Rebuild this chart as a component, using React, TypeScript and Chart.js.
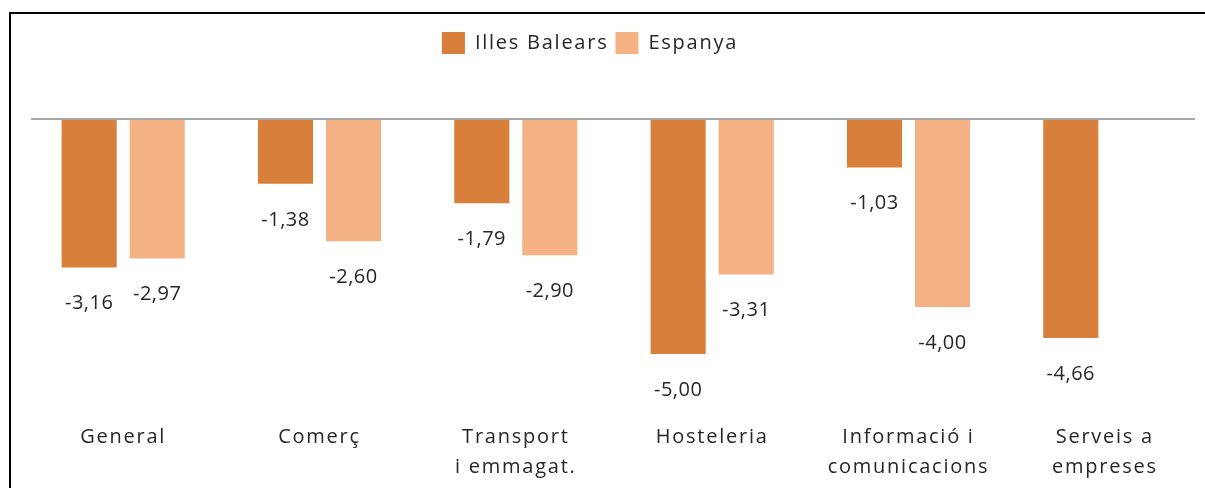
import React, { useEffect, useRef } from "react";
import { Chart, registerables } from "chart.js";

Chart.register(...registerables);

const categories: (string | string[])[] = [
  "General",
  "Comerç",
  ["Transport", "i emmagat."],
  "Hosteleria",
  ["Informació i", "comunicacions"],
  ["Serveis a", "empreses"],
];
const illesBalears: (number | null)[] = [-3.16, -1.38, -1.79, -5.0, -1.03, -4.66];
const espanya: (number | null)[] = [-2.97, -2.6, -2.9, -3.31, -4.0, null];
const seriesNames = ["Illes Balears", "Espanya"];
const seriesColors = ["#D77F3B", "#F4B183"];

const FONT = "'Open Sans', 'DejaVu Sans', sans-serif";
const TEXT = "#262626";

const spacingPlugin = {
  id: "spacing",
  beforeLayout(chart: any) {
    chart.ctx.letterSpacing = "1.75px";
  },
  afterLayout(chart: any) {
    if (chart.legend) {
      chart.legend.left -= 24;
      chart.legend.right -= 24;
    }
  },
  beforeDraw(chart: any) {
    chart.ctx.letterSpacing = "1.75px";
  },
};

const zeroLinePlugin = {
  id: "zeroLine",
  afterDatasetsDraw(chart: any) {
    const { ctx, chartArea, scales } = chart;
    const y = scales.y.getPixelForValue(0);
    ctx.save();
    ctx.strokeStyle = "#A6A6A6";
    ctx.lineWidth = 2;
    ctx.beginPath();
    ctx.moveTo(chartArea.left + 6, y);
    ctx.lineTo(chartArea.right - 8, y);
    ctx.stroke();
    ctx.restore();
  },
};

const valueLabelPlugin = {
  id: "valueLabels",
  afterDatasetsDraw(chart: any) {
    const { ctx } = chart;
    ctx.save();
    ctx.letterSpacing = "0.5px";
    ctx.font = `20px ${FONT}`;
    ctx.fillStyle = TEXT;
    ctx.textAlign = "center";
    ctx.textBaseline = "middle";
    chart.data.datasets.forEach((ds: any, di: number) => {
      const meta = chart.getDatasetMeta(di);
      meta.data.forEach((bar: any, i: number) => {
        const v = ds.data[i];
        if (v === null || v === undefined) return;
        const txt = v.toFixed(2).replace(".", ",");
        ctx.fillText(txt, bar.x, bar.y + 36);
      });
    });
    ctx.restore();
  },
};

export default function App() {
  const ref = useRef<HTMLCanvasElement | null>(null);

  useEffect(() => {
    if (!ref.current) return;
    const chart = new Chart(ref.current, {
      type: "bar",
      data: {
        labels: categories,
        datasets: [
          {
            label: seriesNames[0],
            data: illesBalears,
            backgroundColor: seriesColors[0],
            borderWidth: 0,
            categoryPercentage: 0.693,
            barPercentage: 0.81,
          },
          {
            label: seriesNames[1],
            data: espanya,
            backgroundColor: seriesColors[1],
            borderWidth: 0,
            categoryPercentage: 0.693,
            barPercentage: 0.81,
          },
        ],
      },
      options: {
        animation: false,
        responsive: false,
        devicePixelRatio: 1,
        layout: { padding: { top: 25, left: 25, right: 2, bottom: 8 } },
        plugins: {
          tooltip: { enabled: false },
          legend: {
            position: "top",
            labels: {
              boxWidth: 23,
              boxHeight: 22,
              padding: 7,
              color: TEXT,
              font: { family: FONT, size: 20 },
            },
          },
        },
        scales: {
          x: {
            position: "bottom",
            grid: { display: false, drawTicks: false },
            border: { display: false },
            ticks: {
              color: TEXT,
              font: { family: FONT, size: 20, lineHeight: "30px" },
              padding: 21,
              maxRotation: 0,
              minRotation: 0,
              autoSkip: false,
            },
            afterFit: (s: any) => {
              s.height = 79;
            },
          },
          spacer: {
            type: "category",
            axis: "x",
            position: "top",
            display: true,
            grid: { display: false, drawTicks: false },
            border: { display: false },
            ticks: { display: false },
            afterFit: (s: any) => {
              s.height = 55;
            },
          },
          y: {
            display: false,
            min: -6,
            max: 0,
          },
        },
      } as any,
      plugins: [spacingPlugin, zeroLinePlugin, valueLabelPlugin],
    });
    return () => chart.destroy();
  }, []);

  return (
    <div
      style={{
        position: "fixed",
        left: 0,
        top: 0,
        width: 1205,
        height: 488,
        overflow: "hidden",
        background: "#fff",
      }}
    >
      <div
        style={{
          position: "absolute",
          left: 9,
          top: 12,
          width: 2000,
          height: 2000,
          borderLeft: "2px solid #000",
          borderTop: "2px solid #000",
        }}
      />
      <canvas
        ref={ref}
        width={1205}
        height={488}
        style={{ position: "absolute", left: 0, top: 0, width: 1205, height: 488 }}
      />
    </div>
  );
}
